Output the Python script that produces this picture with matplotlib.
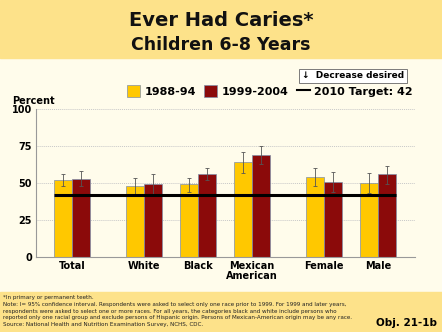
import numpy as np
import matplotlib
matplotlib.use("Agg")
import matplotlib.pyplot as plt
from matplotlib.patches import Rectangle
from matplotlib.lines import Line2D

# data
groups = ["Total", "White", "Black", "Mexican\nAmerican", "Female", "Male"]
pos = [4, 8, 11, 14, 18, 21]   # group centres (in bar widths), gaps between sections
v1988 = [52, 48, 49, 64, 54, 50]
lo1988 = [48, 42, 44, 57, 48, 43]
hi1988 = [56, 53.5, 53.5, 71, 60, 56.5]
v1999 = [53, 49, 56, 69, 51, 56]
lo1999 = [48, 42.5, 52, 63, 44, 49.5]
hi1999 = [58, 56, 60, 75, 57.5, 61.5]
target = 42
yticks = [0, 25, 50, 75, 100]

YEL = "#FFC800"
RED = "#8B0A0A"
BAND = "#FDE28A"
CREAM = "#FFFCEB"

fig = plt.figure(figsize=(4.42, 3.32), dpi=100)
fig.patch.set_facecolor(CREAM)

# header and footer bands
fig.add_artist(Rectangle((0, 1 - 58/332), 1, 58/332, transform=fig.transFigure,
                         color=BAND, zorder=0))
fig.add_artist(Rectangle((0, 0), 1, 40/332, transform=fig.transFigure,
                         color=BAND, zorder=0))
fig.text(0.5, 1 - 21/332, "Ever Had Caries*", ha="center", va="center",
         fontsize=14, fontweight="bold", color="#111111")
fig.text(0.5, 1 - 45/332, "Children 6-8 Years", ha="center", va="center",
         fontsize=12.5, fontweight="bold", color="#111111")

ax = fig.add_axes([36/442, 75/332, 379/442, 148/332])
ax.set_facecolor(CREAM)
x = np.array(pos, dtype=float)
ax.bar(x - 0.5, v1988, width=1, color=YEL, edgecolor="#8090a8", linewidth=0.5, zorder=2)
ax.bar(x + 0.5, v1999, width=1, color=RED, edgecolor="#8090a8", linewidth=0.5, zorder=2)
ax.errorbar(x - 0.5, v1988, yerr=[np.array(v1988) - lo1988, np.array(hi1988) - v1988],
            fmt="none", ecolor="#555555", elinewidth=0.6, capsize=1.2, capthick=0.6, zorder=3)
ax.errorbar(x + 0.5, v1999, yerr=[np.array(v1999) - lo1999, np.array(hi1999) - v1999],
            fmt="none", ecolor="#555555", elinewidth=0.6, capsize=1.2, capthick=0.6, zorder=3)
ax.hlines(target, x[0] - 1, x[-1] + 1, color="black", linewidth=2.2, zorder=4)

ax.set_xlim(2, 23.06)
ax.set_ylim(0, 100)
ax.set_yticks(yticks)
ax.set_yticklabels([str(t) for t in yticks], fontsize=7, fontweight="bold")
ax.set_xticks(x)
ax.set_xticklabels(groups, fontsize=7, fontweight="bold", linespacing=0.95)
ax.tick_params(length=0, pad=3)
ax.yaxis.grid(True, linestyle=(0, (1, 1)), color="#c8c8c8", linewidth=0.7, zorder=0)
for s in ["top", "right"]:
    ax.spines[s].set_visible(False)
for s in ["left", "bottom"]:
    ax.spines[s].set_color("#999999")
    ax.spines[s].set_linewidth(0.8)

fig.text(12/442, 1 - 101/332, "Percent", fontsize=7, fontweight="bold", va="center")

# legend
handles = [Rectangle((0, 0), 1, 1, facecolor=YEL, edgecolor="#8090a8", linewidth=0.5),
           Rectangle((0, 0), 1, 1, facecolor=RED, edgecolor="#8090a8", linewidth=0.5),
           Line2D([0], [0], color="black", linewidth=1.5)]
fig.legend(handles, ["1988-94", "1999-2004", "2010 Target: 42"], ncol=3,
           loc="center", bbox_to_anchor=(270/442, 1 - 91/332), frameon=False,
           prop={"weight": "bold", "size": 8}, handlelength=1.2, handleheight=1.2,
           handletextpad=0.4, columnspacing=0.7, borderaxespad=0)
fig.text(353/442, 1 - 76/332, "\u2193  Decrease desired", ha="center", va="center",
         fontsize=6.5, fontweight="bold",
         bbox=dict(boxstyle="square,pad=0.3", facecolor="white", edgecolor="#666666",
                   linewidth=0.6))

notes = ("*In primary or permanent teeth.\n"
         "Note: I= 95% confidence interval. Respondents were asked to select only one race prior to 1999. "
         "For 1999 and later years,\n"
         "respondents were asked to select one or more races. For all years, the categories black and "
         "white include persons who\n"
         "reported only one racial group and exclude persons of Hispanic origin. Persons of "
         "Mexican-American origin may be any race.\n"
         "Source: National Health and Nutrition Examination Survey, NCHS, CDC.")
fig.text(3/442, 1 - 295/332, notes, fontsize=4.1, va="top", ha="left",
         linespacing=1.45, color="#222222")
fig.text(437/442, 1 - 323/332, "Obj. 21-1b", ha="right", va="center",
         fontsize=7.5, fontweight="bold")

fig.savefig("out.png", dpi=100, facecolor=fig.get_facecolor())
